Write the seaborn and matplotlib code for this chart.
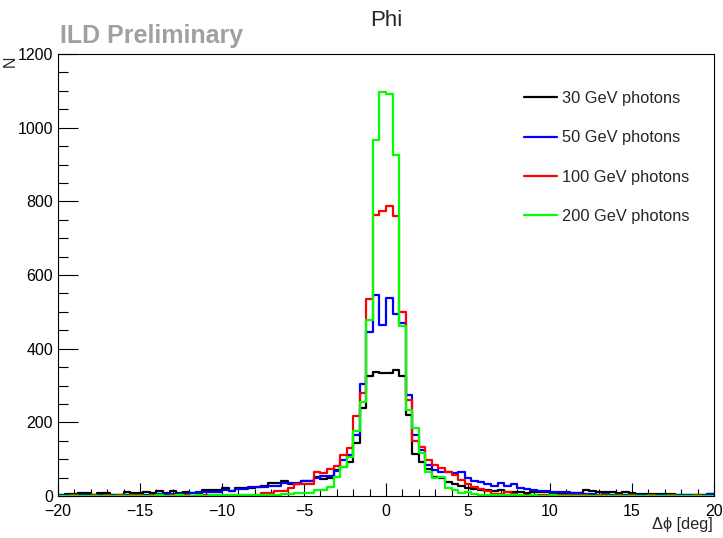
import numpy as np
import pandas as pd
import matplotlib
matplotlib.use("Agg")
import matplotlib.pyplot as plt
import seaborn as sns
from matplotlib.ticker import MultipleLocator
from matplotlib.lines import Line2D

sns.set_theme(style="white")
plt.rcParams['font.family'] = ['Liberation Sans', 'DejaVu Sans']

# ---------------- data ----------------
bin_lo, bin_hi, n_bins = -20.0, 20.0, 100

series_labels = ["30 GeV photons", "50 GeV photons", "100 GeV photons", "200 GeV photons"]
series_colors = ["#000000", "#0000ff", "#ff0000", "#00ff00"]

counts_30 = [3,5,5,7,7,3,7,7,4,4,12,7,7,12,7,14,9,14,9,12,9,9,16,16,16,21,14,21,21,21,
             24,27,34,34,41,33,33,40,40,51,47,48,71,80,93,
             143,238,326,338,333,335,342,326,220,115,
             93,72,52,50,39,32,27,22,20,17,15,14,16,12,12,10,9,10,12,10,9,8,7,7,8,
             16,14,12,12,10,8,12,7,6,5,5,5,6,5,4,3,3,4,3,5]
counts_50 = [2,2,2,2,2,2,3,2,2,3,2,3,2,3,3,5,5,5,6,5,8,10,12,12,12,16,14,20,20,24,
             24,24,27,27,34,34,34,42,42,48,54,54,68,98,110,
             165,303,446,546,464,537,493,469,274,166,
             125,84,71,66,66,62,64,48,42,38,32,27,34,28,32,22,20,15,14,13,11,11,10,9,8,
             6,5,4,5,4,3,4,3,3,3,2,3,2,3,2,2,3,2,3,6]
counts_100 = [1,1,2,1,1,2,1,2,1,2,1,2,2,1,2,2,1,3,2,2,1,2,3,2,3,3,3,3,3,3,
              3,9,9,14,14,21,33,33,33,66,62,72,81,111,130,
              218,279,535,763,773,786,759,500,261,148,
              134,98,84,75,66,57,44,33,25,18,14,6,5,12,6,4,3,4,3,2,3,2,2,3,2,
              2,1,2,2,1,2,1,2,1,1,2,1,1,2,1,1,1,2,1,1]
counts_200 = [1,0,1,1,0,1,1,0,1,1,1,0,1,1,1,2,1,1,2,1,1,2,1,2,2,2,2,2,3,3,
              3,3,3,3,5,5,9,9,9,16,16,25,52,78,105,
              177,256,478,967,1098,1091,927,462,234,184,
              116,66,48,52,21,15,9,12,5,3,3,2,2,3,2,2,1,2,1,1,2,1,1,1,0,
              1,1,1,0,1,1,0,1,1,0,1,1,1,0,1,1,0,1,1,1]

x_ticks_major = 5
x_ticks_minor = 1
y_ticks_major = 200
y_ticks_minor = 50
y_max = 1200

# ---------------- plot ----------------
bin_w = (bin_hi - bin_lo) / n_bins
centers = bin_lo + bin_w * (np.arange(n_bins) + 0.5)

fig = plt.figure(figsize=(7.23, 5.38), dpi=100)
ax = fig.add_axes([58 / 723, 42 / 538, 656 / 723, 442 / 538])

all_counts = [counts_30, counts_50, counts_100, counts_200]
for lab, col, cnt in zip(series_labels, series_colors, all_counts):
    df = pd.DataFrame({"dphi": centers, "n": np.asarray(cnt, dtype=float)})
    sns.histplot(data=df, x="dphi", weights="n", binwidth=bin_w,
                 binrange=(bin_lo, bin_hi), element="step",
                 fill=False, color=col, linewidth=1.6, ax=ax)

ax.set_xlim(bin_lo, bin_hi)
ax.set_ylim(0, y_max)
ax.set_xlabel("")
ax.set_ylabel("")

ax.xaxis.set_major_locator(MultipleLocator(x_ticks_major))
ax.xaxis.set_minor_locator(MultipleLocator(x_ticks_minor))
ax.yaxis.set_major_locator(MultipleLocator(y_ticks_major))
ax.yaxis.set_minor_locator(MultipleLocator(y_ticks_minor))

ax.tick_params(which="both", direction="in", top=False, right=False,
               bottom=True, left=True, color="black", width=0.8)
ax.tick_params(axis="x", which="major", length=9.4, pad=6, labelsize=11.5, labelcolor="black")
ax.tick_params(axis="x", which="minor", length=4.7)
ax.tick_params(axis="y", which="major", length=14.4, pad=3.5, labelsize=11.5, labelcolor="black")
ax.tick_params(axis="y", which="minor", length=7.2)

for sp in ax.spines.values():
    sp.set_visible(True)
    sp.set_color("black")
    sp.set_linewidth(0.8)

handles = [Line2D([0], [0], color=c, lw=1.6) for c in series_colors]
ax.legend(handles, series_labels, loc="upper left",
          bbox_to_anchor=(524 / 723, 1 - 91 / 538), bbox_transform=fig.transFigure,
          frameon=False, fontsize=11.8, handlelength=2.0, handletextpad=0.3,
          labelspacing=1.48, borderpad=0, borderaxespad=0)

fig.text(386 / 723, 1 - 20 / 538, "Phi", ha="center", va="center", fontsize=16)
fig.text(60 / 723, 1 - 43 / 538, "ILD Preliminary", ha="left", va="baseline",
         fontsize=18, fontweight="bold", color="#a0a0a0")
fig.text(10 / 723, 1 - 61 / 538, "N", rotation=90, ha="center", va="center", fontsize=11.5)
fig.text(713 / 723, 1 - 525 / 538, "Δϕ [deg]", ha="right", va="center", fontsize=11.8)

fig.savefig("out.png", dpi=100)
